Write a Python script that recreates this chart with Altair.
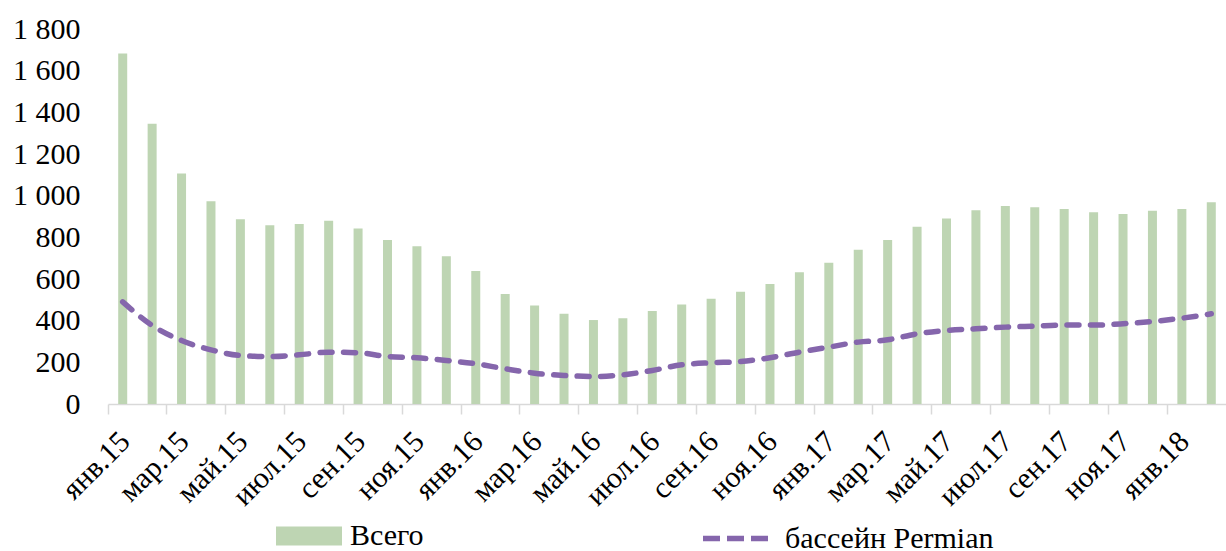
import altair as alt
import pandas as pd

# Monthly periods, Jan 2015 – Feb 2018
periods = [
    "янв.15", "фев.15", "мар.15", "апр.15", "май.15", "июн.15",
    "июл.15", "авг.15", "сен.15", "окт.15", "ноя.15", "дек.15",
    "янв.16", "фев.16", "мар.16", "апр.16", "май.16", "июн.16",
    "июл.16", "авг.16", "сен.16", "окт.16", "ноя.16", "дек.16",
    "янв.17", "фев.17", "мар.17", "апр.17", "май.17", "июн.17",
    "июл.17", "авг.17", "сен.17", "окт.17", "ноя.17", "дек.17",
    "янв.18", "фев.18",
]

# Total count (bars)
total = [
    1683, 1345, 1106, 973, 887, 858, 864, 880, 843, 787, 757, 709,
    638, 528, 473, 433, 403, 412, 446, 478, 505, 539, 576, 632,
    678, 741, 787, 851, 891, 930, 951, 944, 936, 920, 912, 928,
    936, 968,
]

# Permian basin (dashed line)
permian = [
    490, 377, 305, 260, 233, 228, 236, 249, 246, 228, 222, 209,
    193, 169, 148, 137, 132, 140, 161, 188, 198, 204, 222, 249,
    273, 297, 308, 337, 353, 361, 369, 374, 379, 379, 385, 396,
    412, 433,
]

series_names = ["Всего", "бассейн Permian"]
y_ticks = [0, 200, 400, 600, 800, 1000, 1200, 1400, 1600, 1800]

GREEN = "#BED5B3"
PURPLE = "#8566AC"
FONT = "Liberation Serif"

df = pd.DataFrame({"period": periods, "total": total, "permian": permian})
df["bar_series"] = series_names[0]
df["line_series"] = series_names[1]

x_enc = alt.X(
    "period:N",
    sort=periods,
    scale=alt.Scale(paddingInner=0, paddingOuter=0),
    axis=alt.Axis(
        title=None,
        values=periods[::2],
        bandPosition=0,
        labelOffset=-8,
        labelAngle=-45,
        labelAlign="right",
        labelBaseline="top",
        labelPadding=12,
        labelFontSize=30,
        tickSize=10,
        tickWidth=1.5,
        tickColor="#d9d9d9",
        domainColor="#d9d9d9",
        domainWidth=1.5,
        grid=False,
    ),
)

y_scale = alt.Scale(domain=[0, 1800], nice=False)
y_axis = alt.Axis(
    title=None,
    values=y_ticks,
    domain=False,
    ticks=False,
    grid=False,
    labelPadding=28,
    labelFontSize=30,
    labelExpr="replace(format(datum.value, ','), ',', ' ')",
)

legend_common = dict(
    title=None,
    orient="none",
    legendY=474,
    padding=0,
    labelFont=FONT,
    labelFontSize=30,
    labelColor="#000000",
    labelLimit=0,
)

bars = alt.Chart(df).mark_bar(size=9).encode(
    x=x_enc,
    y=alt.Y("total:Q", scale=y_scale, axis=y_axis),
    fill=alt.Fill(
        "bar_series:N",
        scale=alt.Scale(domain=[series_names[0]], range=[GREEN]),
        legend=alt.Legend(
            legendX=168,
            symbolType="M-1,-0.29H1V0.29H-1Z",
            symbolSize=4356,
            symbolStrokeWidth=0,
            labelOffset=8,
            **legend_common,
        ),
    ),
)

line = alt.Chart(df).mark_line(
    strokeWidth=5.5,
    strokeDash=[12, 11.5],
    strokeCap="round",
    interpolate="monotone",
).encode(
    x=x_enc,
    y=alt.Y("permian:Q", scale=y_scale, axis=y_axis),
    stroke=alt.Stroke(
        "line_series:N",
        scale=alt.Scale(domain=[series_names[1]], range=[PURPLE]),
        legend=alt.Legend(
            legendX=592,
            symbolType="stroke",
            symbolSize=4225,
            symbolStrokeWidth=5.5,
            symbolDash=[17, 7],
            labelOffset=14,
            **legend_common,
        ),
    ),
)

chart = (
    alt.layer(bars, line)
    .properties(
        width=1118,
        height=375,
        padding={"left": 108, "top": 29, "right": 0, "bottom": 147},
        autosize=alt.AutoSizeParams(type="none"),
    )
    .configure_view(stroke=None)
    .configure_axis(labelFont=FONT, labelColor="#000000")
)

chart.save("out.html", embed_options={"renderer": "svg", "actions": False})
